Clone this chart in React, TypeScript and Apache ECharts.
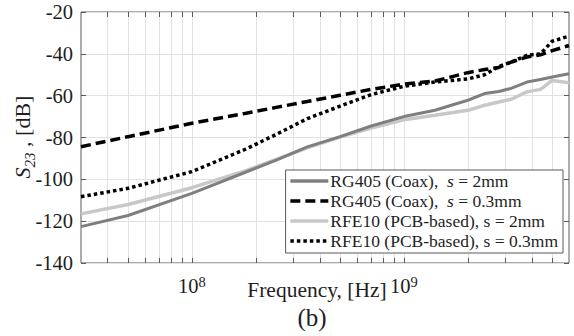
import React, { useEffect, useRef } from 'react';
import * as echarts from 'echarts';

const FONT = '"Liberation Serif", "Times New Roman", serif';

// Frequency grid (Hz)
const FREQ = [3e7, 5e7, 1e8, 1.8e8, 2.5e8, 3.5e8, 5e8, 7e8, 1e9, 1.4e9, 2e9, 2.4e9, 2.8e9, 3.2e9, 3.8e9, 4.4e9, 5e9, 6e9];

// S23 values (dB)
const RG405_2MM = [-122.6, -117.3, -106.7, -96.5, -90.8, -84.5, -79.6, -74.5, -70, -67, -62.2, -59, -58, -56.5, -53.5, -52.3, -51.1, -49.5];
const RG405_03MM = [-84.4, -79.6, -73.2, -68.4, -65.6, -62.8, -59.8, -57, -54.5, -53, -49, -47.5, -46.5, -44, -41.5, -40.5, -38.5, -36];
const RFE10_2MM = [-116.5, -112, -104, -95.8, -90.5, -85, -79.8, -75.5, -71.5, -69.4, -67, -64.6, -63, -61.7, -58.2, -57, -52.7, -53.8];
const RFE10_03MM = [-108.3, -104.3, -96.3, -85.5, -78.5, -71, -65, -59.5, -55.5, -53.5, -52, -50, -46, -44, -40.7, -40, -34, -31.5];

const SERIES_NAMES = [
  'RG405 (Coax), s = 2mm',
  'RG405 (Coax), s = 0.3mm',
  'RFE10 (PCB-based), s = 2mm',
  'RFE10 (PCB-based), s = 0.3mm',
];
const LEGEND_RICH = [
  'RG405 (Coax),  {i|s} = 2mm',
  'RG405 (Coax),  {i|s} = 0.3mm',
  'RFE10 (PCB-based), s = 2mm',
  'RFE10 (PCB-based), s = 0.3mm',
];

// log axis tick positions (1..9 x 10^n)
const TICK_FREQ = [4e7, 5e7, 6e7, 7e7, 8e7, 9e7, 1e8, 2e8, 3e8, 4e8, 5e8, 6e8, 7e8, 8e8, 9e8, 1e9, 2e9, 3e9, 4e9, 5e9];

const X_MIN = 3e7;
const X_MAX = 6e9;
const Y_MIN = -140;
const Y_MAX = -20;
const Y_STEP = 20;

const pairs = (vals: number[]) => FREQ.map((f, i) => [f, vals[i]]);

export default function App() {
  const ref = useRef<HTMLDivElement>(null);
  useEffect(() => {
    const chart = echarts.init(ref.current!, undefined, { renderer: 'svg' });
    const textColor = '#1e1e1e';
    const boxColor = '#5a5a5a';
    const gridColor = '#e2e2e2';
    const option: any = {
      animation: false,
      backgroundColor: '#ffffff',
      grid: {
        left: 81, right: 5, top: 12, bottom: 73,
        show: true, borderColor: boxColor, borderWidth: 1, backgroundColor: 'transparent',
      },
      xAxis: {
        type: 'log', logBase: 10, min: X_MIN, max: X_MAX,
        axisLine: { show: false },
        axisTick: { show: false },
        splitLine: { show: false },
        axisLabel: {
          margin: 11,
          color: textColor,
          fontFamily: FONT,
          formatter: (v: number) => {
            const e = Math.log10(v);
            if (Math.abs(e - Math.round(e)) < 1e-6) return `{b|10}{s|${Math.round(e)}}`;
            return '';
          },
          rich: {
            b: { fontFamily: FONT, fontSize: 20.5, color: textColor, lineHeight: 22, verticalAlign: 'bottom' },
            s: { fontFamily: FONT, fontSize: 14.5, color: textColor, lineHeight: 22, verticalAlign: 'top', padding: [0, 0, 6, 0] },
          },
        },
      },
      yAxis: [
        {
          type: 'value', min: Y_MIN, max: Y_MAX, interval: Y_STEP,
          axisLine: { show: false },
          axisTick: { show: true, inside: true, length: 5, lineStyle: { color: boxColor } },
          splitLine: { show: true, lineStyle: { color: gridColor, width: 1 } },
          axisLabel: { margin: 8, color: textColor, fontFamily: FONT, fontSize: 20.5 },
        },
        {
          type: 'value', min: Y_MIN, max: Y_MAX, interval: Y_STEP, position: 'right',
          axisLine: { show: false },
          axisTick: { show: true, inside: true, length: 5, lineStyle: { color: boxColor } },
          splitLine: { show: false },
          axisLabel: { show: false },
        },
      ],
      legend: {
        orient: 'vertical',
        right: 11, top: 170,
        backgroundColor: '#ffffff',
        borderColor: boxColor, borderWidth: 1,
        padding: [2, 5, 3, 3],
        itemWidth: 38, itemHeight: 12, itemGap: 2,
        itemStyle: { opacity: 0 },
        lineStyle: { width: 3.5 },
        data: SERIES_NAMES,
        formatter: (name: string) => LEGEND_RICH[SERIES_NAMES.indexOf(name)],
        textStyle: {
          fontFamily: FONT, fontSize: 17.5, color: textColor, padding: [0, 0, 0, -3],
          rich: { i: { fontFamily: FONT, fontSize: 17.5, fontStyle: 'italic', color: textColor } },
        },
      },
      graphic: [
        {
          type: 'text', x: 317, y: 290,
          style: { text: 'Frequency, [Hz]', font: `21.5px ${FONT}`, fill: textColor, textAlign: 'center', textVerticalAlign: 'middle', verticalAlign: 'middle' },
        },
        {
          type: 'text', x: 312, y: 317,
          style: { text: '(b)', font: `25px ${FONT}`, fill: textColor, textAlign: 'center', textVerticalAlign: 'middle', verticalAlign: 'middle' },
        },
        {
          type: 'text', x: 24, y: 137, rotation: Math.PI / 2,
          style: {
            text: '{s|S}{sub|23}{n| , [dB]}',
            textAlign: 'center', textVerticalAlign: 'middle', verticalAlign: 'middle',
            fill: textColor,
            rich: {
              s: { fontFamily: FONT, fontSize: 22, fontStyle: 'italic', fill: textColor, lineHeight: 26, verticalAlign: 'top' },
              sub: { fontFamily: FONT, fontSize: 15, fontStyle: 'italic', fill: textColor, lineHeight: 15, verticalAlign: 'bottom' },
              n: { fontFamily: FONT, fontSize: 22, fill: textColor, lineHeight: 26, verticalAlign: 'top' },
            },
          },
        },
      ],
      series: [
        {
          type: 'custom', name: 'ticks', silent: true, z: 1,
          data: TICK_FREQ.map((f) => [f, Y_MIN]),
          encode: { x: 0, y: 1 },
          renderItem: (params: any, api: any) => {
            const f = api.value(0);
            const pb = api.coord([f, Y_MIN]);
            const pt = api.coord([f, Y_MAX]);
            const x = Math.round(pb[0]) + 0.5;
            return {
              type: 'group',
              children: [
                { type: 'line', shape: { x1: x, y1: pt[1], x2: x, y2: pb[1] }, style: { stroke: gridColor, lineWidth: 1 } },
                { type: 'line', shape: { x1: x, y1: pb[1], x2: x, y2: pb[1] - 5 }, style: { stroke: boxColor, lineWidth: 1 } },
                { type: 'line', shape: { x1: x, y1: pt[1], x2: x, y2: pt[1] + 5 }, style: { stroke: boxColor, lineWidth: 1 } },
              ],
            };
          },
        },
        {
          type: 'line', name: SERIES_NAMES[0], data: pairs(RG405_2MM), showSymbol: false, symbol: 'none', z: 3,
          lineStyle: { color: '#7f7f7f', width: 3, type: 'solid' }, itemStyle: { color: '#7f7f7f' },
        },
        {
          type: 'line', name: SERIES_NAMES[1], data: pairs(RG405_03MM), showSymbol: false, symbol: 'none', z: 4,
          lineStyle: { color: '#000000', width: 3.5, type: [10, 5] }, itemStyle: { color: '#000000' },
        },
        {
          type: 'line', name: SERIES_NAMES[2], data: pairs(RFE10_2MM), showSymbol: false, symbol: 'none', z: 2,
          lineStyle: { color: '#c8c8c8', width: 3.5, type: 'solid' }, itemStyle: { color: '#c8c8c8' },
        },
        {
          type: 'line', name: SERIES_NAMES[3], data: pairs(RFE10_03MM), showSymbol: false, symbol: 'none', z: 5,
          lineStyle: { color: '#000000', width: 3.5, type: [3.5, 3] }, itemStyle: { color: '#000000' },
        },
      ],
    };
    chart.setOption(option);
    return () => chart.dispose();
  }, []);
  return (
    <div
      ref={ref}
      style={{ position: 'fixed', left: 0, top: 0, width: 574, height: 336, background: '#ffffff' }}
    />
  );
}
